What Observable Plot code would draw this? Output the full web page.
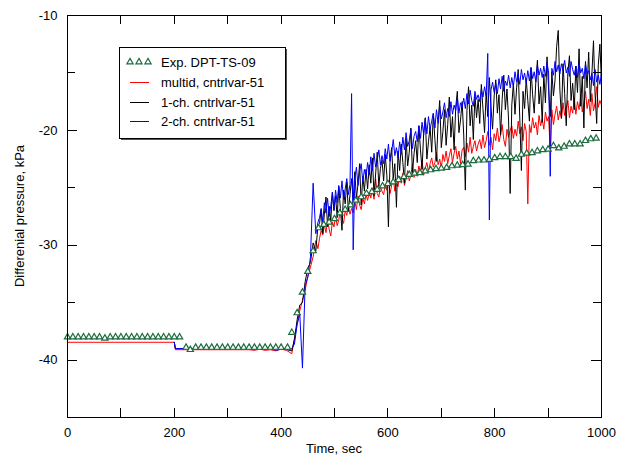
<!DOCTYPE html>
<html><head><meta charset="utf-8">
<script src="https://cdn.jsdelivr.net/npm/d3@7"></script>
<script src="https://cdn.jsdelivr.net/npm/@observablehq/plot@0.6"></script>
<style>
body{margin:0;background:#fff;}
#chart{width:624px;height:457px;}
</style></head><body><div id="chart"></div>
<script>
// ---- tick values ----
const xMajorTicks = [0, 200, 400, 600, 800, 1000];
const xMinorTicks = [100, 300, 500, 700, 900];
const yMajorTicks = [-40, -30, -20, -10];
const yMinorTicks = [-35, -25, -15];

// ---- labels ----
const xLabel = "Time, sec";
const yLabel = "Differenial pressure, kPa";
const seriesNames = ["Exp. DPT-TS-09", "multid, cntrlvar-51", "1-ch. cntrlvar-51", "2-ch. cntrlvar-51"];

// ---- experimental points ----
const expTime = [0,10,20,30,40,50,60,70,80,90,100,110,120,130,140,150,160,170,180,190,200,210,
  222,230,240,250,260,270,280,290,300,310,320,330,340,350,360,370,380,390,400,412,
  420,430,440,450,460,470,480,490,500,510,520,530,540,550,560,570,580,590,600,610,620,630,640,650,
  660,670,680,690,700,710,720,730,740,750,760,770,780,790,800,810,820,830,840,850,860,870,880,890,
  900,910,920,930,940,950,960,970,980,990];
const expValue = [-38.0,-38.0,-38.0,-38.0,-38.0,-38.0,-38.0,-38.1,-38.0,-38.0,-38.0,-38.0,-38.0,-38.0,-38.0,-38.0,-38.0,-38.0,-38.0,-38.0,-38.0,-38.0,
  -38.9,-39.1,-38.9,-38.9,-38.9,-38.9,-38.9,-38.9,-38.9,-38.9,-38.9,-38.9,-38.9,-38.9,-38.9,-38.9,-38.9,-38.9,-38.9,-38.9,
  -37.6,-35.9,-34.1,-32.3,-30.5,-28.5,-28.2,-28.0,-27.7,-27.2,-26.9,-26.5,-26.1,-25.8,-25.5,-25.35,-25.15,-24.85,-24.65,-24.5,-24.3,-24.05,-23.85,-23.75,
  -23.7,-23.55,-23.45,-23.35,-23.3,-23.25,-23.1,-23.05,-23.0,-22.95,-22.65,-22.6,-22.6,-22.55,-22.4,-22.3,-22.3,-22.3,-22.45,-22.1,-22.0,-21.95,-21.8,-21.7,
  -21.65,-21.35,-21.55,-21.4,-21.2,-21.2,-21.2,-20.9,-20.75,-20.7];

// ---- simulations: early part (explicit times) ----
// multid run starts at 0 s; the 1-ch and 2-ch runs start at 200 s
const redHeadTime = [0, 200, 202, 340, 350, 360, 370, 380, 390, 400, 410, 415, 420, 425, 430, 435, 440, 445, 450, 455, 460, 465, 469];
const redHead   = [-38.45,-38.45,-39.1,-39.1,-39.15,-39.05,-39.15,-39.1,-39.2,-39.05,-39.15,-39.3,-39.45,-38.1,-36.9,-35.7,-34.8,-33.9,-32.7,-31.9,-31.0,-29.6,-30.3];
const chHeadTime = [200, 202, 340, 350, 360, 370, 380, 390, 400, 410, 415, 420, 425, 430, 435, 440, 445, 450, 455, 460, 465, 469];
const blackHead = [-38.45,-39.0,-39.0,-39.05,-39.0,-39.05,-39.0,-39.05,-39.0,-39.05,-39.15,-39.2,-38.2,-36.5,-35.2,-35.0,-33.2,-32.0,-31.5,-29.8,-30.5,-28.3];
const blueHead  = [-38.45,-39.0,-39.0,-39.1,-38.95,-39.1,-39.0,-39.15,-39.05,-39.1,-39.1,-39.0,-38.6,-36.9,-36.0,-40.7,-33.5,-32.8,-31.0,-24.6,-29.0,-28.0];

// ---- simulations: noisy part, sampled every 3 s from 472 to 1000 ----
const tailTime = d3.range(472, 1001, 3);
const redTail = [
 -29.4,-28.7,-29.1,-28.2,-28.9,-27.9,-28.6,-29.2,-28.0,-28.4,
 -27.5,-28.3,-27.8,-26.9,-27.7,-28.1,-27.0,-27.4,-26.6,-27.3,
 -26.8,-27.2,-26.1,-26.9,-25.7,-26.5,-26.9,-25.9,-26.4,-25.6,
 -26.1,-25.4,-25.9,-25.0,-26.0,-24.2,-25.5,-25.8,-24.9,-25.3,
 -25.6,-24.7,-25.2,-24.4,-25.5,-24.8,-24.1,-25.3,-24.6,-24.9,
 -24.0,-24.6,-23.7,-24.8,-24.2,-23.5,-24.4,-23.9,-22.9,-24.1,
 -23.4,-24.0,-23.1,-23.7,-22.6,-23.9,-23.3,-22.8,-23.6,-22.9,
 -22.4,-23.2,-22.8,-21.9,-23.0,-22.5,-23.3,-22.1,-22.7,-21.8,
 -22.9,-22.2,-21.6,-22.8,-22.0,-21.4,-22.5,-21.8,-22.9,-21.7,
 -21.5,-22.3,-21.1,-21.9,-20.6,-22.0,-21.4,-20.9,-21.8,-21.2,
 -20.8,-21.6,-20.4,-21.5,-20.9,-20.1,-21.3,-20.6,-21.7,-20.3,
 -20.9,-19.8,-21.0,-20.4,-19.5,-20.8,-21.4,-19.9,-20.6,-20.0,
 -19.6,-20.7,-19.9,-20.5,-19.2,-20.3,-19.7,-20.9,-19.4,-20.1,
 -26.4,-19.5,-20.2,-18.9,-19.8,-19.3,-20.4,-18.7,-19.6,-19.0,
 -19.9,-18.4,-19.2,-18.8,-21.9,-18.2,-19.5,-18.6,-17.9,-19.1,
 -18.3,-19.0,-17.6,-18.7,-18.1,-17.4,-18.9,-17.9,-18.5,-17.2,
 -18.6,-17.5,-18.2,-16.9,-18.4,-17.7,-16.6,-18.1,-17.3,-18.7,
 -16.8,-18.3,-17.6,-16.2,-18.0,-17.4,-17.8];
const blackTail = [
 -28.1,-26.9,-29.0,-27.3,-25.8,-28.4,-26.6,-27.9,-25.4,-27.0,
 -25.7,-27.6,-24.9,-26.8,-28.7,-25.2,-26.4,-24.5,-27.1,-25.6,
 -24.2,-26.1,-23.6,-25.9,-24.7,-22.9,-26.5,-24.0,-25.3,-23.4,
 -25.1,-23.0,-24.6,-22.4,-25.7,-23.8,-21.9,-24.9,-23.3,-22.6,
 -24.4,-22.1,-23.9,-28.4,-22.7,-21.5,-24.2,-22.9,-26.7,-21.8,
 -23.5,-21.2,-22.8,-24.6,-20.7,-23.1,-21.9,-19.8,-23.7,-22.0,
 -20.9,-22.8,-19.6,-21.7,-23.4,-20.2,-18.9,-22.5,-21.0,-19.7,
 -21.9,-18.6,-20.8,-22.7,-19.3,-17.4,-21.5,-20.1,-18.2,-21.3,
 -19.5,-17.1,-20.6,-18.8,-21.7,-18.0,-16.6,-20.2,-19.1,-17.5,
 -20.4,-25.2,-18.3,-16.2,-19.6,-17.8,-20.8,-16.9,-18.9,-17.3,
 -19.4,-16.0,-18.1,-20.2,-16.7,-18.8,-15.4,-17.9,-19.9,-17.0,
 -15.6,-18.5,-16.9,-20.4,-17.3,-15.2,-18.2,-16.4,-19.1,-25.5,
 -17.8,-15.9,-18.6,-16.3,-14.7,-19.0,-23.5,-16.6,-18.1,-15.5,
 -17.4,-19.2,-14.6,-16.9,-18.5,-15.8,-13.9,-17.7,-16.2,-19.3,
 -15.1,-17.6,-13.6,-16.5,-18.8,-14.9,-17.0,-15.6,-12.7,-11.3,
 -16.4,-18.9,-14.2,-16.8,-19.6,-15.0,-13.5,-17.4,-15.9,-18.2,
 -14.4,-16.7,-12.9,-17.9,-15.3,-19.8,-14.0,-16.3,-13.2,-17.5,
 -15.1,-12.2,-16.9,-19.4,-14.3,-12.5,-16.0];
const blueTail = [
 -27.6,-26.8,-28.0,-26.3,-27.2,-25.9,-27.5,-26.6,-25.4,-26.9,
 -25.2,-26.3,-24.8,-25.9,-24.4,-26.0,-25.1,-24.2,-25.6,-24.7,
 -16.8,-30.4,-24.3,-23.2,-24.8,-23.6,-22.9,-24.5,-23.4,-24.1,
 -22.8,-23.9,-22.3,-23.5,-22.0,-23.2,-22.6,-21.7,-23.0,-22.2,
 -22.9,-21.6,-22.5,-21.2,-22.7,-21.9,-20.8,-22.2,-21.5,-22.4,
 -21.0,-22.1,-20.6,-21.7,-20.2,-21.4,-20.9,-19.9,-21.6,-20.5,
 -20.1,-21.0,-19.6,-20.7,-19.3,-20.4,-19.0,-20.3,-18.8,-19.9,
 -19.2,-18.5,-19.8,-18.2,-19.4,-17.9,-19.0,-18.4,-17.6,-18.9,
 -18.1,-18.8,-17.5,-18.6,-17.8,-18.3,-17.1,-18.5,-17.6,-18.0,
 -17.2,-18.1,-16.8,-17.7,-16.5,-17.4,-17.9,-16.6,-17.3,-16.9,
 -17.5,-16.4,-17.1,-16.2,-17.0,-13.3,-27.8,-16.5,-15.8,-16.7,
 -15.9,-16.8,-15.5,-16.4,-15.3,-16.6,-15.7,-16.1,-15.2,-16.3,
 -15.4,-16.2,-14.9,-15.8,-15.1,-16.0,-14.7,-15.6,-15.0,-15.9,
 -14.8,-15.7,-14.5,-15.5,-14.9,-15.8,-14.3,-15.2,-14.6,-15.4,
 -14.4,-15.3,-14.1,-15.0,-24.0,-14.6,-15.2,-14.0,-14.9,-14.3,
 -15.1,-14.2,-14.8,-13.9,-15.0,-14.5,-15.3,-14.0,-14.7,-15.2,
 -14.4,-15.4,-14.1,-15.0,-14.6,-15.5,-14.2,-15.1,-14.8,-15.6,
 -15.0,-16.1,-14.7,-15.8,-15.2,-16.0,-15.0];

// ---- colours ----
const colors = {exp: "#1b6b3e", red: "#ff0000", black: "#000000", blue: "#0000ff"};

// build tables
const expData = expTime.map((t, i) => ({t, v: expValue[i]}));
function series(headT, head, tail) {
  return headT.map((t, i) => ({t, v: head[i]})).concat(tailTime.map((t, i) => ({t, v: tail[i]})));
}
const redData = series(redHeadTime, redHead, redTail);
const blackData = series(chHeadTime, blackHead, blackTail);
const blueData = series(chHeadTime, blueHead, blueTail);

const FONT = "'Liberation Sans', Arial, Helvetica, sans-serif";
const FS = 13;
const triR = 2.3;
const W = 624, H = 457, ML = 67, MR = 23, MT = 15, MB = 40;
const frameW = W - ML - MR, frameH = H - MT - MB;

const plot = Plot.plot({
  width: W, height: H,
  marginLeft: ML, marginRight: MR, marginTop: MT, marginBottom: MB,
  x: {domain: [0, 1000]},
  y: {domain: [-45, -10]},
  style: {fontFamily: FONT, fontSize: FS + "px", color: "#000", background: "#fff", overflow: "visible"},
  marks: [
    Plot.axisX({ticks: xMajorTicks, tickSize: 0, tickPadding: 10, tickFormat: d => String(d), label: null}),
    Plot.axisY({ticks: yMajorTicks, tickSize: 0, tickPadding: 10, tickFormat: d => String(d), label: null}),
    Plot.line(redData, {x: "t", y: "v", stroke: colors.red, strokeWidth: 1}),
    Plot.line(blackData, {x: "t", y: "v", stroke: colors.black, strokeWidth: 1}),
    Plot.line(blueData, {x: "t", y: "v", stroke: colors.blue, strokeWidth: 1}),
    Plot.dot(expData, {x: "t", y: "v", symbol: "triangle", r: triR, stroke: colors.exp, strokeWidth: 1.2, fill: "white"}),
    Plot.frame({stroke: "#000", strokeWidth: 1})
  ]
});

document.getElementById("chart").appendChild(plot);

// ---- inward ticks on all four sides, placed through the plot's own scales ----
const sx = plot.scale("x"), sy = plot.scale("y");
const xLft = ML, xRgt = ML + frameW, yTop = MT, yBot = MT + frameH;
const px = v => Math.round(sx.apply(v)) + 0.5;
const py = v => Math.round(sy.apply(v)) + 0.5;
let d = "";
[...xMajorTicks, ...xMinorTicks].forEach(v => { d += `M${px(v)},${yBot}v-9M${px(v)},${yTop}v9`; });
yMajorTicks.forEach(v => { d += `M${xLft},${py(v)}h10M${xRgt},${py(v)}h-10`; });
yMinorTicks.forEach(v => { d += `M${xLft},${py(v)}h8M${xRgt},${py(v)}h-8`; });
const svg = d3.select(plot);
svg.append("path").attr("d", d).attr("fill", "none").attr("stroke", "#000").attr("stroke-width", 1);

// ---- axis titles and legend ----
svg.append("text").attr("x", ML + frameW / 2).attr("y", 448).attr("dy", "0.35em")
  .attr("text-anchor", "middle").attr("fill", "#000").style("font-size", FS + "px").text(xLabel);
svg.append("text").attr("transform", `translate(19,${MT + frameH / 2}) rotate(-90)`).attr("dy", "0.35em")
  .attr("text-anchor", "middle").attr("fill", "#000").style("font-size", FS + "px").text(yLabel);

const lg = svg.append("g");
lg.append("rect").attr("x", 121).attr("y", 49).attr("width", 166).attr("height", 91).attr("fill", "#555");
lg.append("rect").attr("x", 119.5).attr("y", 47.5).attr("width", 166).attr("height", 91).attr("fill", "#fff").attr("stroke", "#000");
const rowsY = [62, 82, 102, 121];
const tri = d3.symbol(d3.symbolTriangle, Math.PI * triR * triR)();
[130, 139, 148].forEach(x => lg.append("path").attr("d", tri).attr("transform", `translate(${x},${rowsY[0]})`)
  .attr("fill", "#fff").attr("stroke", colors.exp).attr("stroke-width", 1.2));
[colors.red, colors.black, colors.blue].forEach((c, i) => lg.append("path")
  .attr("d", `M130,${rowsY[i + 1] + 0.5}H149`).attr("stroke", c).attr("stroke-width", 1).attr("fill", "none"));
seriesNames.forEach((n, i) => lg.append("text").attr("x", 161).attr("y", rowsY[i]).attr("dy", "0.35em")
  .attr("text-anchor", "start").attr("fill", "#000").style("font-size", FS + "px").text(n));
</script></body></html>
